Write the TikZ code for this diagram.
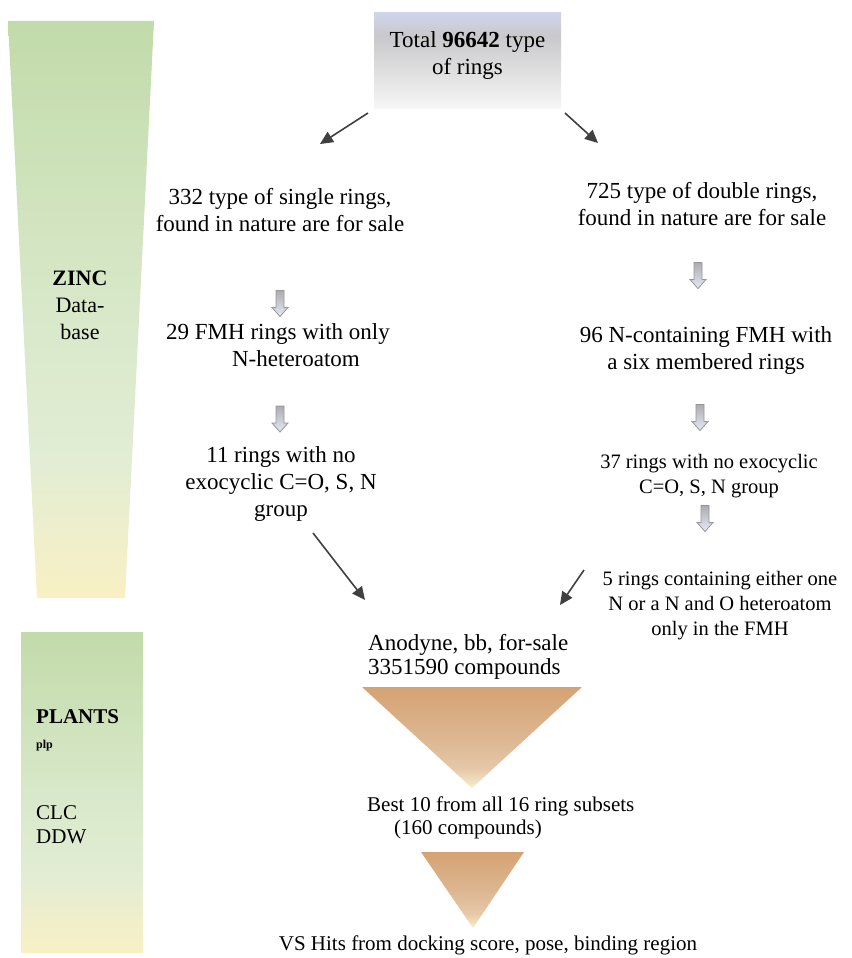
\documentclass[tikz,border=0pt]{standalone}
\usepackage{fontspec}
\setmainfont{Liberation Serif}
\usetikzlibrary{arrows.meta}

\definecolor{zincTop}{RGB}{194,219,170}
\definecolor{zincMid}{RGB}{216,232,201}
\definecolor{zincLow}{RGB}{226,237,212}
\definecolor{zincBot}{RGB}{249,240,196}
\definecolor{boxTop}{RGB}{208,212,236}
\definecolor{boxMid}{RGB}{201,201,203}
\definecolor{boxBot}{RGB}{246,246,246}
\definecolor{funTop}{RGB}{213,163,115}
\definecolor{funMid}{RGB}{221,182,145}
\definecolor{funLow}{RGB}{229,199,168}
\definecolor{funPale}{RGB}{241,226,190}
\definecolor{funBot}{RGB}{250,242,198}
\definecolor{arrTop}{RGB}{172,172,176}
\definecolor{arrBot}{RGB}{230,233,246}
\definecolor{arrEdge}{RGB}{150,150,154}
\definecolor{darkArr}{RGB}{64,64,64}

\pgfdeclareverticalshading{zincshade}{100bp}{color(0bp)=(zincBot); color(25bp)=(zincBot); color(37bp)=(zincLow); color(50bp)=(zincMid); color(75bp)=(zincTop); color(100bp)=(zincTop)}
\pgfdeclareverticalshading{boxshade}{100bp}{color(0bp)=(boxBot); color(25bp)=(boxBot); color(63bp)=(boxMid); color(75bp)=(boxTop); color(100bp)=(boxTop)}
\pgfdeclareverticalshading{funshade}{100bp}{color(0bp)=(funBot); color(25bp)=(funBot); color(28bp)=(funPale); color(35bp)=(funLow); color(50bp)=(funMid); color(75bp)=(funTop); color(100bp)=(funTop)}

\begin{document}
\begin{tikzpicture}[x=1pt, y=-1pt,
	txt/.style={align=center, inner sep=0pt, font=\fontsize{23}{27}\selectfont},
	smalltxt/.style={align=center, inner sep=0pt, font=\fontsize{20.5}{25}\selectfont},
	sidetxt/.style={anchor=west, align=left, inner sep=0pt, font=\fontsize{21}{24}\selectfont},
	flow/.style={draw=darkArr, line width=1.6pt, -{Triangle[length=13pt, width=12pt]}},
	blockdown/.pic={
		\shade[top color=arrTop, bottom color=arrBot, draw=arrEdge, line width=0.8pt]
			(-4,-13) -- (4,-13) -- (4,4) -- (8,4) -- (0,13) -- (-8,4) -- (-4,4) -- cycle;
	}]
	\path[fill=white] (0,0) rectangle (851,958);
	\useasboundingbox (0,0) rectangle (851,958);

	% side bars
	\shade[shading=zincshade] (8,21) -- (154,21) -- (125,598) -- (37,598) -- cycle;
	\shade[shading=zincshade] (21,632) rectangle (143,952);
	\node[txt, font=\fontsize{22}{27}\selectfont] (zinc) at (80,305) {\textbf{ZINC}\\Data-\\base};
	\node[sidetxt] (plants) at (36,717) {\textbf{PLANTS}};
	\node[sidetxt, font=\fontsize{12}{14}\selectfont\bfseries] (plp) at (36,746) {plp};
	\node[sidetxt] (clc) at (36,825) {CLC\\DDW};

	% ring selection
	\node[shading=boxshade, minimum width=187pt, minimum height=95pt, inner sep=0pt] (totalbox) at (467.5,60.5) {};
	\node[txt] (total) at (467.5,56) {Total \textbf{96642} type\\of rings};

	\node[txt] (single) at (280,210) {332 type of single rings,\\found in nature are for sale};
	\node[txt] (double) at (702,204) {725 type of double rings,\\found in nature are for sale};
	\node[txt] (fmhone) at (278,345) {29 FMH rings with only\\\hspace*{36pt}N-heteroatom};
	\node[txt] (fmhsix) at (706,350) {96 N-containing FMH with\\a six membered rings};
	\node[txt] (noexoL) at (281,484) {11 rings with no\\exocyclic C=O, S, N\\group};
	\node[smalltxt] (noexoR) at (709,476) {37 rings with no exocyclic\\C=O, S, N group};
	\node[smalltxt] (fivering) at (720,606) {5 rings containing either one\\N or a N and O heteroatom\\only in the FMH};

	\pic at (280,303.5) {blockdown};
	\pic at (280,419) {blockdown};
	\pic at (698,275.5) {blockdown};
	\pic at (700,417.5) {blockdown};
	\pic at (705,518.5) {blockdown};

	\coordinate (s1) at (368,113);
	\coordinate (e1) at (320,144);
	\coordinate (s2) at (565,113);
	\coordinate (e2) at (598,143);
	\coordinate (s3) at (313,533);
	\coordinate (e3) at (365,600);
	\coordinate (s4) at (584,570);
	\coordinate (e4) at (560,605);
	\draw[flow] (s1) -- (e1);
	\draw[flow] (s2) -- (e2);
	\draw[flow] (s3) -- (e3);
	\draw[flow] (s4) -- (e4);

	% screening funnel
	\node[txt, anchor=west, align=left, font=\fontsize{23}{24}\selectfont] (anodyne) at (368,657) {Anodyne, bb, for-sale\\3351590 compounds};
	\shade[shading=funshade] (362,687) -- (582,687) -- (472,788) -- cycle;
	\node[sidetxt, font=\fontsize{21}{23}\selectfont] (best) at (367,818) {Best 10 from all 16 ring subsets\\\hspace*{27pt}(160 compounds)};
	\shade[shading=funshade] (421,852) -- (524,852) -- (473,928) -- cycle;
	\node[txt, font=\fontsize{21}{24}\selectfont] (hits) at (488,945) {VS Hits from docking score, pose, binding region};
\end{tikzpicture}
\end{document}
